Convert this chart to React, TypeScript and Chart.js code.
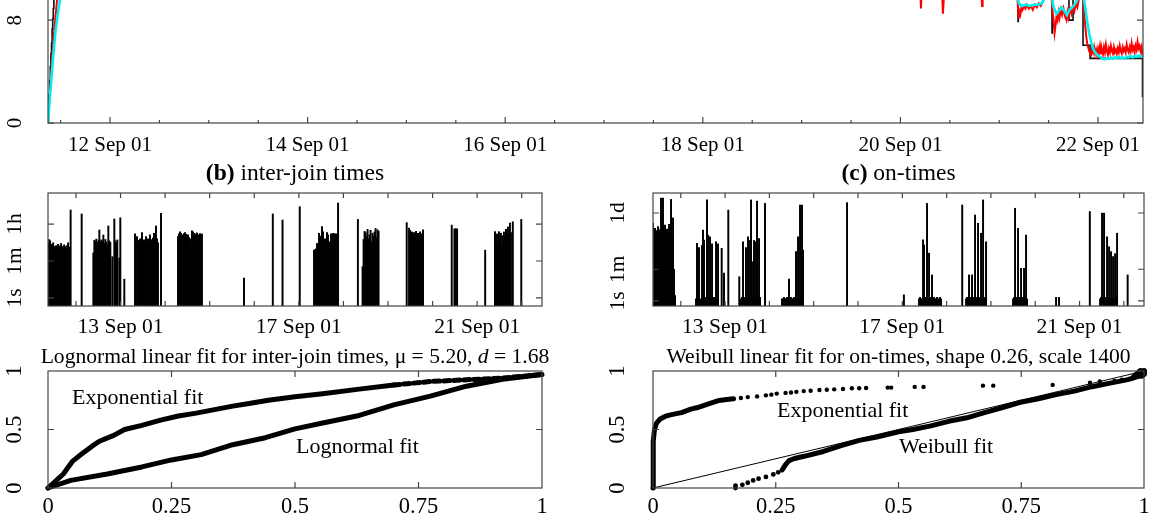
import React, { useEffect, useRef } from "react";
import { Chart, registerables } from "chart.js";

Chart.register(...registerables);

const W = 1151;
const H = 523;
const FONT = '"Liberation Serif", "Times New Roman", Times, serif';
const FRAME = "#444";

// ================= (a) top panel : time series, x = day of September 2001 =================
const topRange = [11.3725, 22.455];
const topYMax = 14;
const topMajorTicks = [12, 14, 16, 18, 20, 22];
const topMinorTicks = [11.5, 12.5, 13, 13.5, 14.5, 15, 15.5, 16.5, 17, 17.5, 18.5, 19, 19.5, 20.5, 21, 21.5];
const topXLabels = ["12 Sep 01", "14 Sep 01", "16 Sep 01", "18 Sep 01", "20 Sep 01", "22 Sep 01"];
const topYTicks = [0, 8];
const topYLabels = ["0", "8"];

// black stepped series [day, value]
const blackSeries: [number, number][] = [
  [11.3725, 0], [11.378, 1.0], [11.384, 2.2], [11.39, 3.3], [11.396, 4.4], [11.402, 5.4], [11.408, 6.2],
  [11.414, 7.3], [11.42, 8.1], [11.426, 8.9], [11.432, 9.7], [11.44, 10.5], [11.46, 11.8], [12.5, 12.6],
  [14.0, 13.1], [16.0, 12.4], [18.0, 12.9], [20.0, 12.2], [21.19, 7.9], [21.193, 12.0], [21.534, 7.0],
  [21.537, 12.0], [21.706, 8.0], [21.747, 12.0], [21.848, 6.05], [21.919, 5.03], [22.45, 2.0],
];

// red noisy series [day, value]
const redSeries: [number, number][] = [
  [11.3725, 0], [11.385, 1.5], [11.4, 3.2], [11.415, 5.0], [11.43, 6.6], [11.445, 8.0], [11.46, 9.2],
  [11.475, 10.4], [11.5, 11.5], [12.5, 12.4], [14, 12.8], [16, 12.2], [18, 12.6], [20, 11.6], [20.2, 10.6],
  [20.208, 8.9], [20.216, 10.7], [20.42, 10.4], [20.43, 8.5], [20.437, 9.4], [20.445, 10.5], [20.82, 10.5],
  [20.826, 9.1], [20.832, 10.6], [21.1, 10.8], [21.18, 10.2], [21.19, 9.0], [21.2, 8.2], [21.205, 8.7],
  [21.215, 8.5], [21.225, 9.0], [21.235, 8.8], [21.25, 9.1], [21.265, 8.9], [21.28, 9.2], [21.3, 8.9],
  [21.32, 9.1], [21.34, 8.8], [21.36, 9.2], [21.38, 9.0], [21.4, 9.3], [21.42, 9.1], [21.44, 9.4],
  [21.46, 9.8], [21.48, 10.5], [21.52, 10.6], [21.54, 8.7], [21.55, 8.0], [21.56, 7.0], [21.57, 7.6],
  [21.58, 8.3], [21.59, 8.0], [21.6, 8.6], [21.61, 8.2], [21.62, 8.8], [21.635, 8.4], [21.65, 8.9],
  [21.665, 8.3], [21.68, 8.0], [21.69, 8.6], [21.7, 8.2], [21.715, 8.9], [21.73, 8.5], [21.745, 9.1],
  [21.76, 8.7], [21.775, 9.3], [21.79, 9.0], [21.805, 9.6], [21.82, 10.2], [21.84, 10.6], [21.85, 9.6],
  [21.86, 8.6], [21.87, 7.6], [21.88, 6.8], [21.89, 6.2], [21.9, 5.9], [21.91, 5.6], [21.92, 5.4],
  [21.93, 5.3], [21.94, 5.8], [21.95, 5.5], [21.96, 5.9], [21.97, 5.4], [21.98, 5.7], [21.99, 5.3],
  [22.0, 5.8], [22.01, 5.5], [22.02, 6.0], [22.03, 5.4], [22.04, 5.7], [22.05, 5.35], [22.06, 5.9],
  [22.07, 5.5], [22.08, 6.1], [22.09, 5.6], [22.1, 5.3], [22.11, 5.8], [22.12, 5.5], [22.13, 6.0],
  [22.14, 5.6], [22.15, 5.4], [22.16, 5.9], [22.17, 5.5], [22.18, 5.7], [22.19, 5.4], [22.2, 5.8],
  [22.21, 5.5], [22.22, 6.0], [22.23, 5.6], [22.24, 5.4], [22.25, 5.9], [22.26, 5.6], [22.27, 5.8],
  [22.28, 5.5], [22.29, 6.1], [22.3, 5.7], [22.31, 5.5], [22.32, 5.9], [22.33, 5.6], [22.34, 6.2],
  [22.35, 5.7], [22.36, 5.9], [22.37, 5.5], [22.38, 6.0], [22.39, 5.7], [22.4, 6.3], [22.41, 5.8],
  [22.42, 6.0], [22.43, 5.6], [22.44, 5.9], [22.45, 5.2],
];

// cyan smooth series [day, value]
const cyanSeries: [number, number][] = [
  [11.3725, 0], [11.39, 1.8], [11.41, 3.8], [11.43, 5.6], [11.45, 7.2], [11.47, 8.4], [11.49, 9.4],
  [11.51, 10.3], [11.55, 11.5], [12.5, 12.0], [14, 12.3], [16, 11.9], [18, 12.1], [20, 11.3], [21.0, 10.9],
  [21.17, 10.3], [21.2, 9.3], [21.23, 9.1], [21.27, 9.2], [21.31, 9.1], [21.35, 9.2], [21.39, 9.2],
  [21.43, 9.3], [21.47, 9.9], [21.5, 10.6], [21.52, 10.4], [21.55, 9.0], [21.58, 8.5], [21.61, 8.8],
  [21.635, 9.0], [21.66, 8.7], [21.685, 8.4], [21.71, 8.8], [21.74, 9.0], [21.77, 9.3], [21.8, 9.8],
  [21.83, 10.3], [21.85, 10.0], [21.87, 9.0], [21.89, 7.9], [21.91, 7.0], [21.93, 6.3], [21.95, 5.8],
  [21.97, 5.5], [21.99, 5.3], [22.01, 5.2], [22.03, 5.1], [22.05, 5.0], [22.07, 4.95], [22.09, 5.05],
  [22.11, 5.0], [22.13, 5.1], [22.15, 5.0], [22.17, 5.1], [22.19, 5.05], [22.21, 5.15], [22.23, 5.05],
  [22.25, 5.1], [22.27, 5.0], [22.29, 5.15], [22.31, 5.1], [22.33, 5.2], [22.35, 5.1], [22.37, 5.2],
  [22.39, 5.15], [22.41, 5.25], [22.43, 5.2], [22.45, 5.15],
];

// ================= (b) inter-join times (seconds, log axis) =================
const midDayTicks = [12, 13, 14, 15, 16, 17, 18, 19, 20, 21, 22];
const midXLabelDays = [13, 17, 21];
const midXLabels = ["13 Sep 01", "17 Sep 01", "21 Sep 01"];
const bRange = [0.41, 112000];
const bYTicks = [1, 60, 3600];
const bYLabels = ["1s", "1m", "1h"];
const bStep = 0.0224;
const b1Start = 11.375;
const b1 = [420, 640, 560, 380, 330, 450, 300, 260, 330, 300, 380, 270, 320, 420, 300, 260, 360, 300, 250, 330, 450, 280];
const b3Start = 12.39;
const b3 = [145, 600, 520, 680, 450, 560, 1860, 480, 620, 540, 1070, 420, 650, 500, 380, 2900, 560, 470, null, 97, null, 6300, 560, 430, 620, null, 83, 7200, null, null, null, 8];
const b4Start = 13.3245;
const b4 = [1200, null, 900, 600, 520, 700, 450, 1400, 550, 620, 480, 900, 560, 700, 500, 1100, 650, 480, 760, 1300, 600, 2900, 700, 450];
const b5Start = 14.289;
const b5 = [900, 1200, 1500, 1300, 1100, 1000, 1250, 1400, 1150, 950, 1100, 800, 700, 250, 1700, 1500, 1300, 1050, 1200, 1350, 1100, 1000, 1250, 1100, 1200];
const b10Start = 17.3406;
const b10 = [200, 210, 230, 420, 380, 1300, 800, 950, 2700, 1500, 650, 700, 480, 1400, 1100, 500, 450, 1200, 900, 1300, 1250, 1100, 1200, 1150];
const b12Start = 18.43;
const b12 = [32, 650, 1600, 1400, 900, 2000, 700, 1100, 1800, 500, 1300, 950, 1500, 2200, 800, 1900, 1600];
const b14Start = 19.472;
const b14 = [2300, 1800, 1200, 1500, 1000, 1400, 900, 1600, 1100, 1300, 800, 1500, 1200, 1000, 1900];
const b17Start = 21.4;
const b17 = [1550, 900, 1200, 450, 1550, 700, 1300, 290, 1000, 1500, 900, 2000, 1200, 2600, 1100, 4000, 1400];
const bSingleDays = [11.88, 12.128, 13.908, 15.77, 16.416, 16.634, 17.02, 17.88, 18.325, 19.42, 20.43, 20.49, 20.51, 20.53, 20.55, 21.18, 21.8, 21.99];
const bSingleVals = [17000, 11000, 11800, 9, 11000, 5600, 24500, 37000, 6000, 4200, 3200, 2100, 2100, 2100, 2100, 200, 4600, 6000];

// ================= (c) on-times (seconds, log axis) =================
const cRange = [0.52, 1150000];
const cYTicks = [1, 60, 86400];
const cYLabels = ["1s", "1m", "1d"];
const cStep = 0.0226;
const c1Start = 11.3725;
const c1 = [23000, 8000, 12000, 6000, 9000, 15000, 7000, 10000, 590000, 14000, 590000, 9000, 18000, 7000, 11000, 6000, 20000, 9000, 500000, 5000, 46000, 60, 2];
const c2Start = 12.343;
const c2 = [1.3, 1700, 1.6, 1000, 1.3, 1.2, 1300, 9500, 2600, 1.3, 1.6, 470000, 5000, 1.6, 4000, 1.3, 1600, 1.3, 1.6, 1.2, 2100, 1.3, 1600];
const c3Start = 13.359;
const c3 = [1.3, 1.6, 2100, 1.3, 1.6, 1000, 1.3, 4000, 1.6, 2500, 470000, 1.3, 160, 2500, 1.6, 2100, 400000, 1.3, 3200, 1.6];
const c4Start = 14.284;
const c4 = [1.3, 1.3, 1.6, 1.3, 1.3, 1.6, 1.3, 17, 1.3, 1.6, 1.3, 1.3, 1.6, 1.3, 590, 1.3, 4000, 1.3, 245000, 1.3, 245000, 720];
const c8Start = 17.377;
const c8 = [1.3, 1.6, 1.3, 1.3, 2700, 1400, 1.3, 1.6, 300000, 1.3, 480, 1.3, 1.6, 29, 1.3, 1.6, 1.3, 1.3, 1.6, 1.3, 1.3, 1.6, 1.3];
const c9Start = 18.438;
const c9 = [1.3, 1.6, 1.3, 29, 1.3, 1.6, 29, 1.3, 1.6, 67000, 1.3, 1.6, 23000, 1.3, 1.6, 6300, 1.3, 470000, 1.3, 1.6, 2100];
const c10Start = 19.499;
const c10 = [1.3, 1.6, 160000, 1.3, 1.6, 12000, 1.3, 1.6, 68, 1.3, 1.6, 68, 1.3, 5000, 1.3];
const c12Start = 21.463;
const c12 = [1.3, 1.6, 85000, 1.3, 85000, 1.6, 1.3, 4000, 1.6, 1100, 1.3, 590, 1.6, 310, 1.3, 450, 1.6, 6300];
const cSingleDays = [12.923, 12.975, 13.072, 13.32, 13.901, 15.752, 17.036, 18.352, 20.47, 20.537, 21.232, 22.086];
const cSingleVals = [900, 37, 126000, 23, 300000, 330000, 2.2, 245000, 1.6, 1.6, 105000, 29];

// ================= bottom panels : linear fits =================
const fitTicks = [0.25, 0.5, 0.75];
const fitLabelVals = [0, 0.25, 0.5, 0.75, 1];
const fitXLabels = ["0", "0.25", "0.5", "0.75", "1"];
const fitYLabelVals = [0, 0.5, 1];
const fitYLabels = ["0", "0.5", "1"];

const ijExpDense: [number, number][] = [
  [0, 0], [0.017, 0.065], [0.031, 0.12], [0.05, 0.23], [0.068, 0.29], [0.09, 0.36], [0.104, 0.4],
  [0.133, 0.45], [0.155, 0.5], [0.19, 0.535], [0.228, 0.58], [0.264, 0.615], [0.3, 0.64], [0.337, 0.67],
  [0.374, 0.7], [0.41, 0.725], [0.446, 0.75], [0.5, 0.78], [0.556, 0.805], [0.63, 0.845], [0.7, 0.88],
];
const ijExpSparse: [number, number][] = [[0.7, 0.88], [0.774, 0.91], [0.847, 0.925], [0.92, 0.94], [1.0, 0.97]];
const ijLogn: [number, number][] = [
  [0, 0], [0.046, 0.065], [0.12, 0.12], [0.19, 0.18], [0.25, 0.24], [0.31, 0.285], [0.374, 0.37],
  [0.44, 0.43], [0.5, 0.505], [0.556, 0.555], [0.63, 0.62], [0.7, 0.71], [0.774, 0.785], [0.847, 0.87],
  [0.92, 0.93], [1.0, 0.97],
];

const onExpDense: [number, number][] = [
  [0, 0], [0, 0.2], [0.001, 0.4], [0.003, 0.5], [0.0073, 0.555], [0.0146, 0.59], [0.0255, 0.614],
  [0.04, 0.629], [0.058, 0.644], [0.077, 0.674], [0.091, 0.688], [0.113, 0.718], [0.135, 0.748],
  [0.15, 0.757], [0.164, 0.763],
];
const onExpSparse: [number, number][] = [
  [0.179, 0.769], [0.193, 0.777], [0.212, 0.783], [0.23, 0.792], [0.241, 0.798], [0.252, 0.807],
  [0.27, 0.813], [0.281, 0.816], [0.292, 0.822], [0.307, 0.828], [0.321, 0.831], [0.339, 0.837],
  [0.354, 0.84], [0.369, 0.843], [0.387, 0.846], [0.405, 0.852], [0.42, 0.852], [0.434, 0.855],
  [0.478, 0.858], [0.485, 0.858], [0.533, 0.864], [0.551, 0.864], [0.672, 0.875], [0.693, 0.875],
  [0.814, 0.881], [0.89, 0.9], [0.91, 0.91], [0.94, 0.915], [0.955, 0.925], [0.975, 0.935],
];
const onWeibullSparse: [number, number][] = [
  [0.168, 0.0], [0.168, 0.02], [0.182, 0.027], [0.193, 0.045], [0.204, 0.065], [0.215, 0.08],
  [0.23, 0.095], [0.245, 0.116], [0.255, 0.134],
];
const onWeibullDense: [number, number][] = [
  [0.263, 0.154], [0.27, 0.2], [0.277, 0.234], [0.288, 0.252], [0.31, 0.273], [0.347, 0.312],
  [0.383, 0.362], [0.42, 0.407], [0.456, 0.436], [0.5, 0.48], [0.529, 0.5], [0.566, 0.531], [0.602, 0.57],
  [0.639, 0.6], [0.675, 0.644], [0.712, 0.688], [0.748, 0.733], [0.785, 0.763], [0.821, 0.798],
  [0.858, 0.828], [0.894, 0.866], [0.931, 0.896], [0.967, 0.926], [1.0, 0.97],
];
const onCorner: [number, number][] = [[0.98, 0.95], [0.985, 0.97], [0.99, 0.99], [0.995, 0.96], [1.0, 0.98], [1.0, 1.0], [0.993, 1.0]];
const diagonal: [number, number][] = [[0, 0], [1, 1]];

// ================= helpers =================
type Seg = { t: string; b?: boolean; i?: boolean };

function drawRich(ctx: CanvasRenderingContext2D, segs: Seg[], cx: number, cy: number, size: number) {
  const f = (s: Seg) => `${s.i ? "italic " : ""}${s.b ? "bold " : ""}${size}px ${FONT}`;
  let total = 0;
  for (const s of segs) {
    ctx.font = f(s);
    total += ctx.measureText(s.t).width;
  }
  let x = cx - total / 2;
  ctx.textAlign = "left";
  ctx.textBaseline = "middle";
  for (const s of segs) {
    ctx.font = f(s);
    ctx.fillText(s.t, x, cy);
    x += ctx.measureText(s.t).width;
  }
}

const decoPlugin = {
  id: "deco",
  afterDraw(chart: any, _args: any, o: any) {
    const { ctx, chartArea: a } = chart;
    const xs = chart.scales.x;
    const ys = chart.scales.y;
    ctx.save();
    ctx.strokeStyle = FRAME;
    ctx.lineWidth = 1.2;
    ctx.strokeRect(a.left, a.top, a.right - a.left, a.bottom - a.top);
    ctx.beginPath();
    for (const [v, len] of o.xTicks) {
      const px = xs.getPixelForValue(v);
      ctx.moveTo(px, a.bottom);
      ctx.lineTo(px, a.bottom - len);
      if (o.mirrorX) {
        ctx.moveTo(px, a.top);
        ctx.lineTo(px, a.top + len);
      }
    }
    for (const [v, len] of o.yTicks) {
      const py = ys.getPixelForValue(v);
      ctx.moveTo(a.left, py);
      ctx.lineTo(a.left + len, py);
      ctx.moveTo(a.right, py);
      ctx.lineTo(a.right - len, py);
    }
    ctx.stroke();
    ctx.fillStyle = "#000";
    ctx.font = `${o.tickFont}px ${FONT}`;
    ctx.textAlign = "center";
    ctx.textBaseline = "middle";
    for (const [v, s] of o.xLabels) ctx.fillText(s, xs.getPixelForValue(v), a.bottom + o.xLabelGap);
    for (const [v, s] of o.yLabels) {
      ctx.save();
      ctx.translate(o.yLabelX, ys.getPixelForValue(v));
      ctx.rotate(-Math.PI / 2);
      ctx.fillText(s, 0, 0);
      ctx.restore();
    }
    if (o.title) drawRich(ctx, o.title, (a.left + a.right) / 2, a.top - o.titleGap, o.titleFont);
    if (o.notes) {
      ctx.font = `${o.noteFont}px ${FONT}`;
      ctx.textAlign = "left";
      ctx.textBaseline = "middle";
      for (const n of o.notes) ctx.fillText(n.text, xs.getPixelForValue(n.x), ys.getPixelForValue(n.y));
    }
    ctx.restore();
  },
};

const pts = (arr: [number, number][]) => arr.map(([x, y]) => ({ x, y }));
function cluster(start: number, step: number, heights: (number | null)[]) {
  const out: { x: number; y: number }[] = [];
  heights.forEach((h, i) => {
    if (h != null) out.push({ x: start + i * step, y: h });
  });
  return out;
}
const singles = (days: number[], vals: number[]) => days.map((d, i) => ({ x: d, y: vals[i] }));

function pad(l: number, t: number, r: number, b: number, cw: number, ch: number) {
  return { left: l, top: t, right: cw - r, bottom: ch - b };
}

function baseOptions(padding: any, xs: any, ys: any, deco: any) {
  return {
    responsive: false,
    maintainAspectRatio: false,
    animation: false,
    devicePixelRatio: 1,
    events: [],
    layout: { padding },
    plugins: { legend: { display: false }, tooltip: { enabled: false }, title: { display: false }, deco },
    scales: { x: { display: false, ...xs }, y: { display: false, ...ys } },
  };
}

// ================= chart configs =================
const TOP_OFFSET = 57;
const TOP_H = H + TOP_OFFSET;

function topConfig() {
  const line = (arr: [number, number][], color: string, width: number, stepped = false) => ({
    type: "line",
    data: pts(arr),
    borderColor: color,
    borderWidth: width,
    pointRadius: 0,
    fill: false,
    stepped,
  });
  return {
    type: "line",
    data: {
      datasets: [
        line(cyanSeries, "#00f0f0", 2.6),
        line(redSeries, "#ff0000", 2.0),
        line(blackSeries, "#111111", 1.6, true),
      ],
    },
    options: baseOptions(
      pad(48, 0, 1143, 123 + TOP_OFFSET, W, TOP_H),
      { type: "linear", min: topRange[0], max: topRange[1] },
      { type: "linear", min: 0, max: topYMax },
      {
        xTicks: [...topMajorTicks.map((v) => [v, 6]), ...topMinorTicks.map((v) => [v, 3])],
        mirrorX: false,
        yTicks: topYTicks.map((v) => [v, 6]),
        xLabels: topMajorTicks.map((v, i) => [v, topXLabels[i]]),
        yLabels: topYTicks.map((v, i) => [v, topYLabels[i]]),
        xLabelGap: 22,
        yLabelX: 15,
        tickFont: 21,
      }
    ),
    plugins: [decoPlugin],
  };
}

function barConfig(left: number, right: number, range: number[], yTicks: number[], yLabels: string[], yLabelX: number, title: Seg[], data: any[]) {
  return {
    type: "bar",
    data: {
      datasets: [
        {
          data,
          backgroundColor: "#000000",
          borderWidth: 0,
          barThickness: 1.3,
          grouped: false,
        },
      ],
    },
    options: baseOptions(
      pad(left, 193, right, 306, W, H),
      { type: "linear", min: topRange[0], max: topRange[1], offset: false },
      { type: "logarithmic", min: range[0], max: range[1] },
      {
        xTicks: midDayTicks.map((v) => [v, 5]),
        mirrorX: true,
        yTicks: yTicks.map((v) => [v, 6]),
        xLabels: midXLabelDays.map((v, i) => [v, midXLabels[i]]),
        yLabels: yTicks.map((v, i) => [v, yLabels[i]]),
        xLabelGap: 21,
        yLabelX,
        tickFont: 21.5,
        title,
        titleGap: 19,
        titleFont: 23.5,
      }
    ),
    plugins: [decoPlugin],
  };
}

function fitConfig(left: number, right: number, yLabelX: number, title: Seg[], datasets: any[], notes: any[]) {
  return {
    type: "line",
    data: { datasets },
    options: baseOptions(
      pad(left, 371, right, 488, W, H),
      { type: "linear", min: 0, max: 1 },
      { type: "linear", min: 0, max: 1 },
      {
        xTicks: fitTicks.map((v) => [v, 6]),
        mirrorX: true,
        yTicks: [[0.5, 6]],
        xLabels: fitLabelVals.map((v, i) => [v, fitXLabels[i]]),
        yLabels: fitYLabelVals.map((v, i) => [v, fitYLabels[i]]),
        xLabelGap: 19,
        yLabelX,
        tickFont: 22.5,
        title,
        titleGap: 14,
        titleFont: 21.6,
        notes,
        noteFont: 22,
      }
    ),
    plugins: [decoPlugin],
  };
}

const thick = (arr: [number, number][], dash: number[] = []) => ({
  data: pts(arr),
  borderColor: "#000",
  borderWidth: 5,
  borderCapStyle: "round",
  borderJoinStyle: "round",
  borderDash: dash,
  pointRadius: 0,
  fill: false,
  clip: 4,
});
const dots = (arr: [number, number][], r: number) => ({
  data: pts(arr),
  showLine: false,
  pointRadius: r,
  pointBackgroundColor: "#000",
  pointBorderWidth: 0,
  clip: 4,
});

function Panel({ config, top = 0, height = H }: { config: () => any; top?: number; height?: number }) {
  const ref = useRef<HTMLCanvasElement>(null);
  useEffect(() => {
    const chart = new Chart(ref.current as HTMLCanvasElement, config() as any);
    return () => chart.destroy();
  }, []);
  return (
    <canvas
      ref={ref}
      width={W}
      height={height}
      style={{ position: "absolute", left: 0, top, width: W, height, display: "block" }}
    />
  );
}

export default function App() {
  const bData = () => [
    ...cluster(b1Start, bStep, b1),
    ...cluster(b3Start, bStep, b3),
    ...cluster(b4Start, bStep, b4),
    ...cluster(b5Start, bStep, b5),
    ...cluster(b10Start, bStep, b10),
    ...cluster(b12Start, bStep, b12),
    ...cluster(b14Start, bStep, b14),
    ...cluster(b17Start, bStep, b17),
    ...singles(bSingleDays, bSingleVals),
  ];
  const cData = () => [
    ...cluster(c1Start, cStep, c1),
    ...cluster(c2Start, cStep, c2),
    ...cluster(c3Start, cStep, c3),
    ...cluster(c4Start, cStep, c4),
    ...cluster(c8Start, cStep, c8),
    ...cluster(c9Start, cStep, c9),
    ...cluster(c10Start, cStep, c10),
    ...cluster(c12Start, cStep, c12),
    ...singles(cSingleDays, cSingleVals),
  ];
  return (
    <div style={{ position: "fixed", left: 0, top: 0, width: W, height: H, overflow: "hidden", background: "#fff" }}>
      <Panel config={topConfig} top={-TOP_OFFSET} height={TOP_H} />
      <Panel
        config={() =>
          barConfig(48, 542, bRange, bYTicks, bYLabels, 15, [{ t: "(b)", b: true }, { t: " inter-join times" }], bData())
        }
      />
      <Panel
        config={() =>
          barConfig(653, 1144, cRange, cYTicks, cYLabels, 618, [{ t: "(c)", b: true }, { t: " on-times" }], cData())
        }
      />
      <Panel
        config={() =>
          fitConfig(
            48,
            542,
            15,
            [{ t: "Lognormal linear fit for inter-join times, \u03bc = 5.20, " }, { t: "d", i: true }, { t: " = 1.68" }],
            [thick(ijExpDense), thick(ijExpSparse, [6, 4]), thick(ijLogn)],
            [
              { x: 0.0486, y: 0.77, text: "Exponential fit" },
              { x: 0.502, y: 0.35, text: "Lognormal fit" },
            ]
          )
        }
      />
      <Panel
        config={() =>
          fitConfig(
            653,
            1144,
            618,
            [{ t: "Weibull linear fit for on-times, shape 0.26, scale 1400" }],
            [
              { data: pts(diagonal), borderColor: "#000", borderWidth: 1, pointRadius: 0, fill: false },
              thick(onExpDense),
              dots(onExpSparse, 2.2),
              dots(onWeibullSparse, 2.4),
              thick(onWeibullDense),
              dots(onCorner, 3),
            ],
            [
              { x: 0.2525, y: 0.658, text: "Exponential fit" },
              { x: 0.501, y: 0.35, text: "Weibull fit" },
            ]
          )
        }
      />
    </div>
  );
}
